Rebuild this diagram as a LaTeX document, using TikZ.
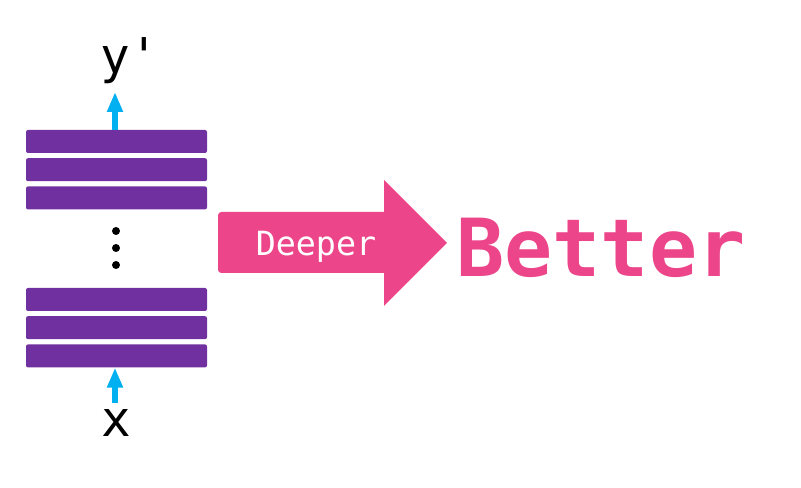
\documentclass[tikz,border=0pt]{standalone}
\usepackage{fontspec}
\setmonofont{DejaVu Sans Mono}
\usetikzlibrary{arrows.meta, positioning}
\definecolor{colLayer}{RGB}{112,48,160}
\definecolor{colFlow} {RGB}{0,176,240}
\definecolor{colDeep} {RGB}{236,69,137}
\tikzset{
  layer/.style = {fill=colLayer, rounded corners=1.5pt, minimum width=135.75pt,
                  minimum height=17.25pt, inner sep=0pt},
  flow/.style  = {-{Triangle[width=11.25pt, length=15pt]}, colFlow, line width=4.5pt},
  dot/.style   = {circle, fill=black, minimum size=6pt, inner sep=0pt},
  io/.style    = {font=\ttfamily\fontsize{37}{40}\selectfont, inner sep=0pt},
}

\begin{document}
\begin{tikzpicture}[x=0.75pt, y=-0.75pt]
\useasboundingbox (0,0) rectangle (801,488);

%% -- upper layers -------------------------------------------------------------
\node[layer] (l1) at (116.5,141.5) {};
\node[layer, below=3.5pt of l1] (l2) {};
\node[layer, below=3.5pt of l2] (l3) {};

%% -- dots ---------------------------------------------------------------------
\node[dot] (d1) at (116,231) {};
\node[dot] (d2) at (116,248) {};
\node[dot] (d3) at (116,265) {};

%% -- lower layers -------------------------------------------------------------
\node[layer] (l4) at (116.5,299.5) {};
\node[layer, below=3.5pt of l4] (l5) {};
\node[layer, below=3.5pt of l5] (l6) {};

%% -- input / output -----------------------------------------------------------
\node[io, anchor=base] (yout) at (130,74) {y'};
\node[io, anchor=base] (xin)  at (116,437) {x};
\coordinate (ytip)  at (115,92);
\coordinate (xtail) at (115,403);

\draw[flow] (l1.north -| ytip) -- (ytip);
\draw[flow] (xtail) -- (l6.south -| xtail);

%% -- big arrow ----------------------------------------------------------------
\fill[colDeep] (384,212) -- (384,180) -- (447,243) -- (384,306) -- (384,273)
  [rounded corners=2.5pt] -- (218,273) -- (218,212) [sharp corners] -- (384,212) -- cycle;
\node[font=\ttfamily\fontsize{25}{28}\selectfont, white, anchor=base] (deeper)
  at (316,256) {Deeper};

\node[font=\ttfamily\bfseries\fontsize{60}{64}\selectfont, colDeep, anchor=base] (better)
  at (601,277) {Better};

\end{tikzpicture}
\end{document}
